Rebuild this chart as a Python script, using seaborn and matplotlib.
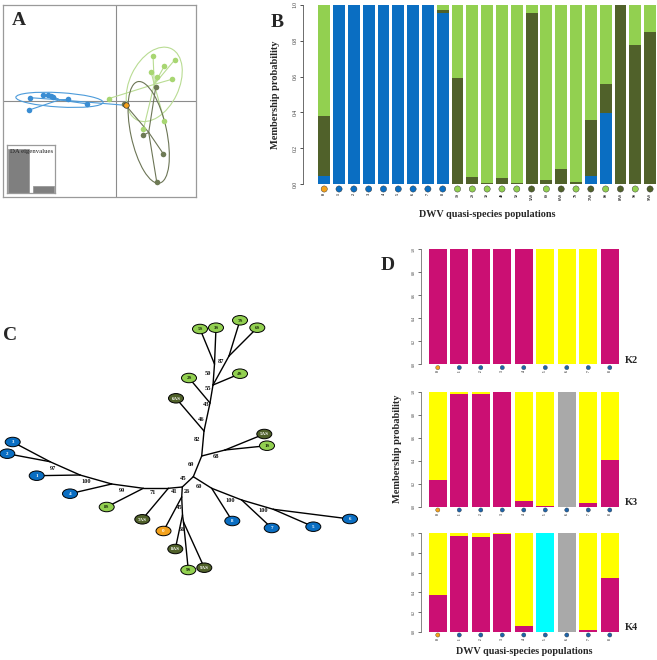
import numpy as np
import pandas as pd
import matplotlib
matplotlib.use("Agg")
import matplotlib.pyplot as plt
import seaborn as sns
from matplotlib.patches import Ellipse

# ---------------------------------------------------------------- data
# Panel A : DAPC scatter (discriminant axis 1 / axis 2)
blue_da1 = [-8.63, -8.70, -7.37, -6.87, -6.57, -6.30, -4.80, -2.90]
blue_da2 = [0.30, -0.93, 0.57, 0.60, 0.50, 0.37, 0.13, -0.33]
s_da1 = [-0.77, 3.67, 5.83, 4.80, 3.47, 4.03, 5.53, 2.70, 4.80]
s_da2 = [0.20, 4.47, 4.07, 3.47, 2.90, 2.33, 2.13, -2.87, -2.03]
as_da1 = [3.93, 0.80, 2.70, 4.70, 4.03]
as_da2 = [1.33, -0.30, -3.47, -5.33, -8.10]
ref_da1 = [0.97]
ref_da2 = [-0.47]
da_eigen = [63.5, 10.5]

# Panel B : membership probabilities
pops_b = ['0', '1', '2', '3', '4', '5', '6', '7', '8', '1S', '2S', '3S', '4S', '5S',
          '5AS', '6S', '6AS', '7S', '7AS', '8S', '8AS', '9S', '9AS']
memb_blue = [0.045, 1, 1, 1, 1, 1, 1, 1, 0.957, 0, 0, 0, 0, 0,
             0, 0, 0, 0, 0.047, 0.395, 0, 0, 0]
memb_dark = [0.335, 0, 0, 0, 0, 0, 0, 0, 0.017, 0.594, 0.037, 0.006, 0.035, 0.006,
             0.957, 0.022, 0.084, 0.013, 0.311, 0.162, 1.0, 0.777, 0.851]
memb_light = [0.620, 0, 0, 0, 0, 0, 0, 0, 0.026, 0.406, 0.963, 0.994, 0.965, 0.994,
              0.043, 0.978, 0.916, 0.987, 0.642, 0.443, 0.0, 0.223, 0.149]

# Panel C : unrooted tree (layout coordinates), parent of each node
tree_names = ['n1', '3', '2', 'n2', '1', 'n3', '4', 'n4', '8S', 'n5', '7AS', 'c',
              'd1', '0', 'd2', '8AS', 'd3', '9S', '9AS',
              'u1', 'b1', '8', 'b2', '7', 'b3', '5', '6',
              'u2', 'g1', '5AS', '1S', 'u3', '6AS', 'u4', '2S', 'u5', '4S',
              'u6', '5S', '3S', 'u7', '7S', '6S']
tree_x = [50.0, 12.7, 7.3, 80.0, 36.7, 111.7, 70.0, 143.3, 106.7, 168.3, 142.3, 182.3,
          181.7, 163.5, 182.5, 175.3, 183.5, 188.3, 204.3,
          193.3, 211.7, 232.3, 241.7, 271.7, 273.3, 313.3, 350.0,
          201.7, 225.0, 264.3, 267.0, 204.0, 176.0, 210.0, 189.0, 213.0, 240.0,
          214.5, 200.0, 216.0, 229.0, 240.0, 257.3]
tree_y = [461.7, 442.0, 453.7, 475.0, 475.7, 484.0, 493.7, 488.3, 507.0, 488.3, 519.3, 487.0,
          497.0, 531.0, 515.0, 549.0, 522.0, 570.0, 567.7,
          476.7, 488.3, 521.0, 500.0, 528.0, 509.3, 526.7, 519.0,
          456.0, 450.0, 434.0, 445.7, 431.0, 398.3, 403.0, 378.0, 385.0, 373.7,
          364.0, 329.0, 327.7, 356.0, 320.3, 327.7]
tree_parent = ['n2', 'n1', 'n1', 'n3', 'n2', 'n4', 'n3', 'n5', 'n4', 'c', 'n5', None,
               'c', 'd1', 'd1', 'd2', 'd2', 'd3', 'd3',
               'c', 'u1', 'b1', 'b1', 'b2', 'b2', 'b3', 'b3',
               'u1', 'u2', 'g1', 'g1', 'u2', 'u3', 'u3', 'u4', 'u4', 'u5',
               'u5', 'u6', 'u6', 'u5', 'u7', 'u7']
boot_vals = ['97', '100', '99', '71', '41', '45', '26', '45', '66', '60', '69', '100',
             '100', '68', '82', '46', '43', '55', '50', '87']
boot_x = [53.3, 86.0, 122.3, 152.7, 174.3, 183.3, 186.7, 178.7, 181.7, 199.3, 191.0, 230.0,
          263.3, 216.0, 196.7, 200.7, 205.7, 208.3, 208.3, 220.7]
boot_y = [469.0, 482.0, 490.7, 492.7, 492.0, 478.7, 491.3, 508.0, 530.0, 486.7, 465.0, 501.0,
          511.0, 456.7, 439.3, 419.3, 404.3, 388.3, 373.3, 361.7]

# Panel D : STRUCTURE-like membership for K = 2, 3, 4
pops_d = ['0', '1', '2', '3', '4', '5', '6', '7', '8']
k2_magenta = [1, 1, 1, 1, 1, 0, 0, 0, 1]
k2_yellow = [0, 0, 0, 0, 0, 1, 1, 1, 0]
k3_magenta = [0.230, 0.980, 0.974, 0.994, 0.049, 0.006, 0, 0.030, 0.403]
k3_yellow = [0.770, 0.020, 0.026, 0.006, 0.951, 0.994, 0, 0.970, 0.597]
k3_gray = [0, 0, 0, 0, 0, 0, 1, 0, 0]
k4_magenta = [0.375, 0.973, 0.962, 0.993, 0.061, 0, 0, 0.020, 0.546]
k4_yellow = [0.625, 0.027, 0.038, 0.007, 0.939, 0, 0, 0.980, 0.454]
k4_gray = [0, 0, 0, 0, 0, 0, 1, 0, 0]
k4_cyan = [0, 0, 0, 0, 0, 1, 0, 0, 0]

# ---------------------------------------------------------------- style
sns.set_theme(style="white")
plt.rcParams['font.family'] = ['Liberation Serif', 'DejaVu Serif']

C_BLUE = '#0A6EC2'
C_LIGHT = '#92D050'
C_DARK = '#50612A'
C_ORANGE = '#F4A21C'
C_MAG = '#CB0F73'
C_YEL = '#FFFF00'
C_GRAY = '#A9A9A9'
C_CYAN = '#00FFFF'

W, H = 657, 660
fig = plt.figure(figsize=(W / 100, H / 100), dpi=100)


def px_axes(x0, y0, x1, y1):
    return fig.add_axes([x0 / W, 1 - y1 / H, (x1 - x0) / W, (y1 - y0) / H])


def ftext(x, y, s, **kw):
    return fig.text(x / W, 1 - y / H, s, **kw)


def group_color(lab):
    if lab == '0':
        return C_ORANGE
    if lab.endswith('AS'):
        return C_DARK
    if lab.endswith('S'):
        return C_LIGHT
    return C_BLUE


def stacked(ax, labels, comps, colors, width):
    cum = np.cumsum(np.array(comps, dtype=float), axis=0)
    for i in range(len(comps) - 1, -1, -1):
        df = pd.DataFrame({'pop': labels, 'v': cum[i]})
        sns.barplot(data=df, x='pop', y='v', order=labels, color=colors[i],
                    saturation=1, width=width, errorbar=None, linewidth=0, ax=ax)


# ---------------------------------------------------------------- Panel A
axA = px_axes(3.3, 4.7, 195.7, 197.3)
axA.set_xlim(-11.3, 7.93)
axA.set_ylim(-9.67, 9.6)
axA.set_xticks([])
axA.set_yticks([])
for s in axA.spines.values():
    s.set_color('#9a9a9a')
    s.set_linewidth(0.9)
axA.axhline(0, color='#8c8c8c', lw=0.8, zorder=1)
axA.axvline(0, color='#8c8c8c', lw=0.8, zorder=1)

ptA = {'blue': '#3A8DD3', 'light': '#A8D672', 'dark': '#6E7A55'}
elA = {'blue': '#4C9BDA', 'light': '#B9DC93', 'dark': '#6C7556'}
clusters = [
    ('blue', blue_da1 + ref_da1, blue_da2 + ref_da2),
    ('light', s_da1, s_da2),
    ('dark', as_da1, as_da2),
]
for key, xs, ys in clusters:
    xs = np.asarray(xs)
    ys = np.asarray(ys)
    cx, cy = xs.mean(), ys.mean()
    for x, y in zip(xs, ys):
        axA.plot([cx, x], [cy, y], color=elA[key], lw=0.8, zorder=2)
    cov = np.cov(xs, ys, bias=True)
    vals, vecs = np.linalg.eigh(cov)
    order = vals.argsort()[::-1]
    vals, vecs = vals[order], vecs[:, order]
    ang = np.degrees(np.arctan2(vecs[1, 0], vecs[0, 0]))
    axA.add_patch(Ellipse((cx, cy), 2 * 1.5 * np.sqrt(vals[0]), 2 * 1.5 * np.sqrt(vals[1]),
                          angle=ang, fill=False, edgecolor=elA[key], lw=0.8, zorder=2))

sns.scatterplot(x=blue_da1, y=blue_da2, color=ptA['blue'], s=16, linewidth=0, ax=axA, zorder=3)
sns.scatterplot(x=s_da1, y=s_da2, color=ptA['light'], s=16, linewidth=0, ax=axA, zorder=3)
sns.scatterplot(x=as_da1, y=as_da2, color=ptA['dark'], s=16, linewidth=0, ax=axA, zorder=3)
sns.scatterplot(x=ref_da1, y=ref_da2, color=C_ORANGE, s=16, edgecolor='#333333',
                linewidth=0.5, ax=axA, zorder=4)

# inset eigenvalues
axI = px_axes(6.7, 145.0, 55.3, 193.3)
dfE = pd.DataFrame({'ax': ['1', '2'], 'eig': da_eigen})
sns.barplot(data=dfE, x='ax', y='eig', color='#7f7f7f', saturation=1, width=0.86,
            errorbar=None, edgecolor='#9a9a9a', linewidth=0.6, ax=axI)
axI.set_xlim(-0.494, 1.49)
axI.set_ylim(0, da_eigen[0] * 48.3 / 44.3)
axI.set_xticks([])
axI.set_yticks([])
axI.set_xlabel('')
axI.set_ylabel('')
for s in axI.spines.values():
    s.set_color('#9a9a9a')
    s.set_linewidth(0.9)
axI.text(0.52, 0.86, 'DA eigenvalues', transform=axI.transAxes, ha='center', va='center',
         fontsize=4.9, color='#222222')

ftext(11.5, 25, 'A', fontsize=14, fontweight='bold', ha='left', va='baseline')

# ---------------------------------------------------------------- Panel B
axB = px_axes(303.3, 5.0, 657.0, 184.0)
stacked(axB, pops_b, [memb_blue, memb_dark, memb_light], [C_BLUE, C_DARK, C_LIGHT], 0.80)
axB.set_xlim(-1.413, 22.468)
axB.set_ylim(0, 1)
axB.set_xlabel('')
axB.set_ylabel('')
axB.set_xticks([])
axB.set_yticks([0, 0.2, 0.4, 0.6, 0.8, 1.0])
axB.set_yticklabels(['0.0', '0.2', '0.4', '0.6', '0.8', '1.0'])
axB.tick_params(axis='y', left=True, length=2.5, width=0.6, pad=1.5, labelsize=4,
                labelrotation=90, colors='#333333')
for lab in axB.get_yticklabels():
    lab.set_va('center')
for k in ['top', 'right', 'bottom']:
    axB.spines[k].set_visible(False)
axB.spines['left'].set_color('#555555')
axB.spines['left'].set_linewidth(0.6)

trB = axB.get_xaxis_transform()
hB = 179.0
cols_b = [group_color(p) for p in pops_b]
axB.scatter(range(len(pops_b)), [-5.0 / hB] * len(pops_b), s=20, c=cols_b,
            edgecolors='#333333', linewidths=0.3, transform=trB, clip_on=False, zorder=5)
for i, p in enumerate(pops_b):
    axB.text(i, -9.0 / hB, p, transform=trB, rotation=90, ha='center', va='top',
             fontsize=2.9, fontweight='bold', color='#222222')

ftext(275, 95, 'Membership probability', rotation=90, ha='center', va='center',
      fontsize=7.5, fontweight='bold')
ftext(487, 214.5, 'DWV quasi-species populations', ha='center', va='center',
      fontsize=7.3, fontweight='bold')
ftext(271, 27, 'B', fontsize=14, fontweight='bold', ha='left', va='baseline')

# ---------------------------------------------------------------- Panel C
axC = px_axes(0, 280, 430, 640)
axC.set_xlim(0, 430)
axC.set_ylim(640, 280)
axC.axis('off')
pos = {n: (x, y) for n, x, y in zip(tree_names, tree_x, tree_y)}
for n, par in zip(tree_names, tree_parent):
    if par is None:
        continue
    axC.plot([pos[n][0], pos[par][0]], [pos[n][1], pos[par][1]], color='black',
             lw=1.0, solid_capstyle='round', zorder=1)
for n, x, y in zip(tree_names, tree_x, tree_y):
    if n[0] in 'nbcdgu' and n not in ('0',):
        continue
    col = group_color(n)
    axC.add_patch(Ellipse((x, y), 15, 9.5, facecolor=col, edgecolor='black', lw=0.7, zorder=3))
    tcol = '#1a2a0a' if col == C_LIGHT else 'white'
    axC.text(x, y + 0.3, n, ha='center', va='center', fontsize=3.6, fontweight='bold',
             color=tcol, zorder=4)
for v, x, y in zip(boot_vals, boot_x, boot_y):
    axC.text(x, y, v, ha='center', va='center', fontsize=4.6, fontweight='bold',
             color='#111111', zorder=2)
ftext(2.5, 340, 'C', fontsize=14, fontweight='bold', ha='left', va='baseline')

# ---------------------------------------------------------------- Panel D
d_boxes = [(249.3, 364.3), (391.5, 506.7), (533.3, 631.7)]
d_data = [
    ([k2_magenta, k2_yellow], [C_MAG, C_YEL], 'K2'),
    ([k3_magenta, k3_yellow, k3_gray], [C_MAG, C_YEL, C_GRAY], 'K3'),
    ([k4_magenta, k4_yellow, k4_gray, k4_cyan], [C_MAG, C_YEL, C_GRAY, C_CYAN], 'K4'),
]
cols_d = [C_ORANGE if p == '0' else '#1F64A8' for p in pops_d]
for (y0, y1), (comps, colors, klab) in zip(d_boxes, d_data):
    ax = px_axes(420.7, y0, 625.0, y1)
    stacked(ax, pops_d, comps, colors, 0.82)
    ax.set_xlim(-0.795, 8.707)
    ax.set_ylim(0, 1)
    ax.set_xlabel('')
    ax.set_ylabel('')
    ax.set_xticks([])
    ax.set_yticks([0, 0.2, 0.4, 0.6, 0.8, 1.0])
    ax.set_yticklabels(['0.0', '0.2', '0.4', '0.6', '0.8', '1.0'])
    ax.tick_params(axis='y', left=True, length=2.2, width=0.5, pad=1.2, labelsize=2.9,
                   labelrotation=90, colors='#333333')
    for lab in ax.get_yticklabels():
        lab.set_va('center')
    for k in ['top', 'right', 'bottom']:
        ax.spines[k].set_visible(False)
    ax.spines['left'].set_color('#555555')
    ax.spines['left'].set_linewidth(0.5)
    hh = y1 - y0
    tr = ax.get_xaxis_transform()
    ax.scatter(range(len(pops_d)), [-3.3 / hh] * len(pops_d), s=9, c=cols_d,
               edgecolors='#333333', linewidths=0.25, transform=tr, clip_on=False, zorder=5)
    for i, p in enumerate(pops_d):
        ax.text(i, -6.3 / hh, p, transform=tr, rotation=90, ha='center', va='top',
                fontsize=2.4, fontweight='bold', color='#333333')
    ftext(625, y1 - 1.5, klab, ha='left', va='baseline', fontsize=7.5, fontweight='bold')

ftext(398, 449, 'Membership probability', rotation=90, ha='center', va='center',
      fontsize=7.5, fontweight='bold')
ftext(524, 652, 'DWV quasi-species populations', ha='center', va='center',
      fontsize=7.3, fontweight='bold')
ftext(381, 270, 'D', fontsize=14, fontweight='bold', ha='left', va='baseline')

fig.savefig('out.png', dpi=100)
